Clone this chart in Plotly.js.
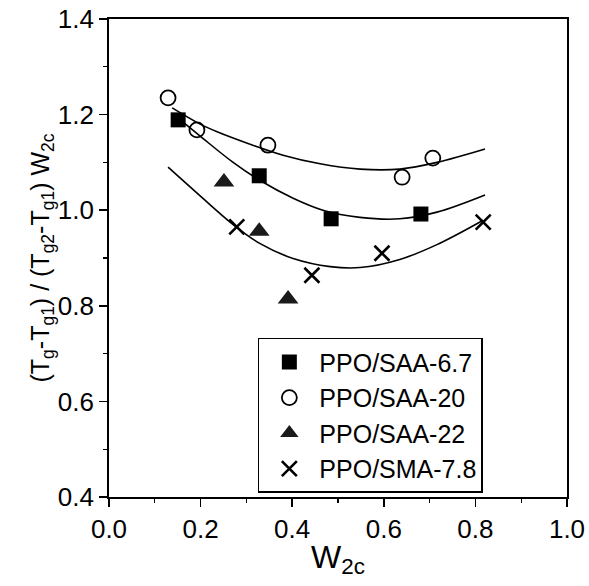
<!DOCTYPE html>
<html>
<head>
<meta charset="utf-8">
<script src="https://cdn.plot.ly/plotly-3.0.1.min.js"></script>
<style>
  html, body { margin: 0; padding: 0; background: #ffffff; }
  #chart { width: 589px; height: 586px; }
</style>
</head>
<body>
<div id="chart"></div>
<script>
// Measured points
const saa67_x = [0.151, 0.328, 0.485, 0.681];
const saa67_y = [1.189, 1.072, 0.982, 0.992];

const saa20_x = [0.129, 0.192, 0.347, 0.640, 0.707];
const saa20_y = [1.235, 1.168, 1.136, 1.069, 1.109];

const saa22_x = [0.251, 0.328, 0.391];
const saa22_y = [1.059, 0.956, 0.814];

const sma78_x = [0.279, 0.443, 0.596, 0.817];
const sma78_y = [0.965, 0.864, 0.910, 0.975];

// Fitted curves
const fitTop_x = [0.138, 0.199, 0.236, 0.308, 0.380, 0.461, 0.548, 0.635, 0.716, 0.821];
const fitTop_y = [1.214, 1.180, 1.164, 1.138, 1.115, 1.097, 1.086, 1.086, 1.100, 1.128];

const fitMid_x = [0.138, 0.199, 0.271, 0.330, 0.402, 0.467, 0.548, 0.635, 0.716, 0.821];
const fitMid_y = [1.203, 1.155, 1.100, 1.062, 1.025, 1.000, 0.985, 0.982, 0.996, 1.032];

const fitBot_x = [0.129, 0.199, 0.271, 0.330, 0.402, 0.483, 0.548, 0.635, 0.716, 0.817];
const fitBot_y = [1.090, 1.030, 0.970, 0.930, 0.899, 0.882, 0.880, 0.897, 0.928, 0.979];

const names = ['PPO/SAA-6.7', 'PPO/SAA-20', 'PPO/SAA-22', 'PPO/SMA-7.8'];

const lineStyle = {color: '#000000', width: 1.6, shape: 'spline', smoothing: 1};

const traces = [
  {x: fitTop_x, y: fitTop_y, mode: 'lines', line: lineStyle, showlegend: false, hoverinfo: 'skip'},
  {x: fitMid_x, y: fitMid_y, mode: 'lines', line: lineStyle, showlegend: false, hoverinfo: 'skip'},
  {x: fitBot_x, y: fitBot_y, mode: 'lines', line: lineStyle, showlegend: false, hoverinfo: 'skip'},
  {x: saa67_x, y: saa67_y, mode: 'markers', name: names[0],
   marker: {symbol: 'square', size: 15, color: '#000000', line: {width: 0}}},
  {x: saa20_x, y: saa20_y, mode: 'markers', name: names[1],
   marker: {symbol: 'circle-open', size: 15, color: '#000000', line: {width: 1.8, color: '#000000'}}},
  {x: saa22_x, y: saa22_y, mode: 'markers', name: names[2],
   marker: {symbol: 'triangle-up', size: 18, color: '#1a1a1a', line: {width: 0}}},
  {x: sma78_x, y: sma78_y, mode: 'markers', name: names[3],
   marker: {symbol: 'x-thin-open', size: 15, color: '#000000', line: {width: 2.6, color: '#000000'}}}
];

const fontFam = 'Liberation Sans, Arial, Helvetica, sans-serif';

const layout = {
  width: 589,
  height: 586,
  margin: {l: 109, r: 22, t: 19, b: 89, pad: 0},
  paper_bgcolor: '#ffffff',
  plot_bgcolor: '#ffffff',
  font: {family: fontFam, color: '#000000', size: 24},
  showlegend: true,
  legend: {
    x: 0.325, y: 0.333, xanchor: 'left', yanchor: 'top',
    bordercolor: '#000000', borderwidth: 1.5, bgcolor: '#ffffff',
    font: {family: fontFam, size: 25, color: '#000000'},
    itemwidth: 50, traceorder: 'normal'
  },
  xaxis: {
    range: [0, 1], dtick: 0.2, tick0: 0, tickformat: '.1f',
    ticks: 'outside', ticklen: 8, tickwidth: 1.5, tickcolor: '#000000',
    minor: {dtick: 0.1, tick0: 0, ticks: 'outside', ticklen: 4, tickwidth: 1.2, tickcolor: '#000000'},
    showline: true, mirror: true, linecolor: '#000000', linewidth: 1.8,
    showgrid: false, zeroline: false,
    tickfont: {family: fontFam, size: 26, color: '#000000'},
    title: {text: 'W<sub>2c</sub>', font: {family: fontFam, size: 32, color: '#000000'}, standoff: 2}
  },
  yaxis: {
    range: [0.4, 1.4], dtick: 0.2, tick0: 0.4, tickformat: '.1f',
    ticks: 'outside', ticklen: 8, tickwidth: 1.5, tickcolor: '#000000',
    minor: {dtick: 0.1, tick0: 0.4, ticks: 'outside', ticklen: 4, tickwidth: 1.2, tickcolor: '#000000'},
    showline: true, mirror: true, linecolor: '#000000', linewidth: 1.8,
    showgrid: false, zeroline: false,
    tickfont: {family: fontFam, size: 26, color: '#000000'},
    title: {text: '(T<sub>g</sub>-T<sub>g1</sub>) / (T<sub>g2</sub>-T<sub>g1</sub>) W<sub>2c</sub>',
            font: {family: fontFam, size: 25, color: '#000000'}, standoff: 0}
  }
};

Plotly.newPlot('chart', traces, layout, {displayModeBar: false, staticPlot: true});
</script>
</body>
</html>
